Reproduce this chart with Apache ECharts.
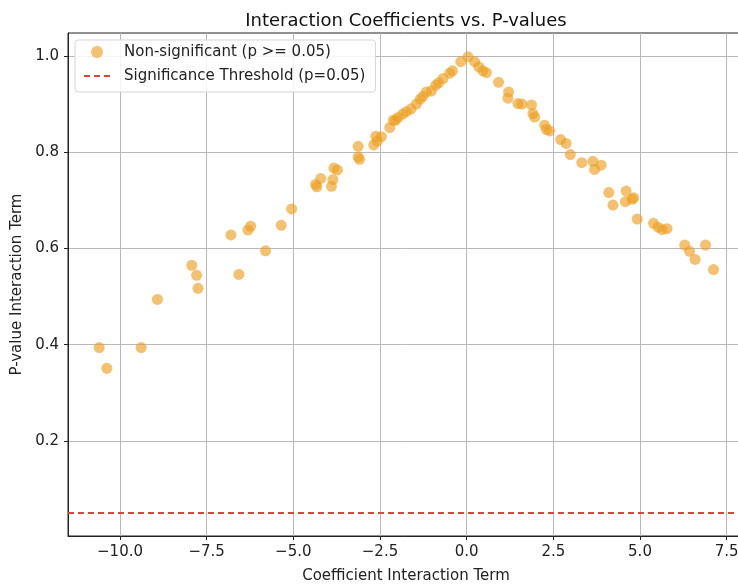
<!DOCTYPE html>
<html>
<head>
<meta charset="utf-8">
<script src="https://cdn.jsdelivr.net/npm/echarts@6/dist/echarts.min.js"></script>
<style>html,body{margin:0;padding:0;background:#fff}#c{width:738px;height:585px}</style>
</head>
<body>
<div id="c"></div>
<script>
// Data
const coefX = [-10.60,-10.38,-9.39,-8.92,-7.93,-7.79,-7.75,-6.80,-6.57,-6.31,-6.23,-5.80,-5.35,-5.05,-4.36,-4.32,-4.21,-3.90,-3.86,-3.83,-3.73,-3.13,-3.13,-3.09,-2.68,-2.62,-2.58,-2.46,-2.22,-2.12,-2.05,-1.98,-1.84,-1.74,-1.60,-1.45,-1.34,-1.26,-1.16,-1.02,-0.89,-0.81,-0.68,-0.49,-0.41,-0.17,0.04,
  0.23,0.35,0.47,0.57,0.92,1.19,1.21,1.48,1.59,1.87,1.91,1.96,2.25,2.30,2.39,2.71,2.87,2.99,3.32,3.64,3.69,3.88,4.10,4.22,4.60,4.58,4.77,4.82,4.92,5.39,5.52,5.64,5.78,6.29,6.43,6.59,6.89,7.12];
const pValues = [0.394,0.351,0.394,0.494,0.565,0.544,0.517,0.628,0.546,0.638,0.646,0.595,0.648,0.682,0.733,0.728,0.745,0.729,0.743,0.767,0.763,0.812,0.790,0.785,0.815,0.833,0.823,0.832,0.851,0.866,0.866,0.872,0.879,0.884,0.890,0.900,0.910,0.916,0.925,0.927,0.939,0.944,0.953,0.964,0.969,0.988,0.998,
  0.988,0.977,0.969,0.965,0.945,0.912,0.925,0.901,0.900,0.898,0.880,0.873,0.856,0.847,0.844,0.826,0.818,0.795,0.778,0.781,0.764,0.773,0.716,0.690,0.719,0.697,0.702,0.705,0.661,0.652,0.644,0.639,0.641,0.607,0.594,0.577,0.607,0.556];
const threshold = 0.05;
const xTicks = [-10.0, -7.5, -5.0, -2.5, 0.0, 2.5, 5.0, 7.5];
const yTicks = [0.2, 0.4, 0.6, 0.8, 1.0];
const xRange = [-11.5, 8.0];
const yRange = [0.0025, 1.0475];
const titleText = 'Interaction Coefficients vs. P-values';
const xName = 'Coefficient Interaction Term';
const yName = 'P-value Interaction Term';
const scatterName = 'Non-significant (p >= 0.05)';
const lineName = 'Significance Threshold (p=0.05)';

const points = coefX.map((x, i) => [x, pValues[i]]);
const fmt = v => (v < 0 ? '\u2212' : '') + Math.abs(v).toFixed(1);
const FONT = 'DejaVu Sans';
const dotColor = 'rgba(237,158,32,0.8)';
const lineColor = '#d9463a';
const dashIcon = 'path://M0,0h6v2h-6z M10,0h6v2h-6z M20,0h6v2h-6z';

const chart = echarts.init(document.getElementById('c'), null, {renderer: 'canvas'});
chart.setOption({
  animation: false,
  backgroundColor: '#fff',
  textStyle: {fontFamily: FONT},
  title: {
    text: titleText, left: 401, top: 7, textAlign: 'center',
    textStyle: {fontFamily: FONT, fontSize: 18, fontWeight: 'normal', color: '#111'}
  },
  legend: {
    left: 75, top: 40, orient: 'vertical',
    backgroundColor: 'rgba(255,255,255,0.85)', borderColor: '#d6d6d6', borderWidth: 1, borderRadius: 3,
    padding: [4, 10, 8, 9], itemGap: 8, itemWidth: 26, itemHeight: 12,
    textStyle: {fontFamily: FONT, fontSize: 15, lineHeight: 16, color: '#222', padding: [0, 0, 0, 9]},
    data: [
      {name: scatterName, icon: 'circle'},
      {name: lineName, icon: dashIcon, itemStyle: {color: lineColor}}
    ]
  },
  grid: {left: 68, width: 676, top: 33, bottom: 49, show: true, borderColor: '#222', borderWidth: 1,
         containLabel: false, outerBoundsMode: 'none'},
  xAxis: {
    type: 'value', min: xRange[0], max: xRange[1],
    name: xName, nameLocation: 'middle', nameGap: 33,
    nameTextStyle: {fontFamily: FONT, fontSize: 15, color: '#222'},
    axisLine: {show: true, onZero: false, lineStyle: {color: '#222', width: 1}},
    axisTick: {show: true, length: 4, customValues: xTicks, lineStyle: {color: '#222'}},
    axisLabel: {customValues: xTicks, formatter: fmt, fontFamily: FONT, fontSize: 15, color: '#222', margin: 9},
    splitLine: {show: true, lineStyle: {color: '#b8b8b8', width: 1}}
  },
  yAxis: {
    type: 'value', min: yRange[0], max: yRange[1],
    name: yName, nameLocation: 'middle', nameGap: 43,
    nameTextStyle: {fontFamily: FONT, fontSize: 15, color: '#222'},
    axisLine: {show: true, onZero: false, lineStyle: {color: '#222', width: 1}},
    axisTick: {show: true, length: 4, customValues: yTicks, lineStyle: {color: '#222'}},
    axisLabel: {customValues: yTicks, formatter: v => v.toFixed(1), fontFamily: FONT, fontSize: 15, color: '#222', margin: 9},
    splitLine: {show: true, lineStyle: {color: '#b8b8b8', width: 1}}
  },
  series: [
    {
      name: scatterName, type: 'scatter', data: points, symbolSize: 11,
      itemStyle: {color: dotColor}, z: 3
    },
    {
      name: lineName, type: 'line', data: [], symbol: 'none',
      lineStyle: {color: lineColor, type: [6, 4], width: 2},
      itemStyle: {color: lineColor},
      markLine: {
        silent: true, symbol: 'none', label: {show: false},
        lineStyle: {color: lineColor, type: [6, 4], width: 2},
        data: [{yAxis: threshold}]
      }
    }
  ]
});
</script>
</body>
</html>
